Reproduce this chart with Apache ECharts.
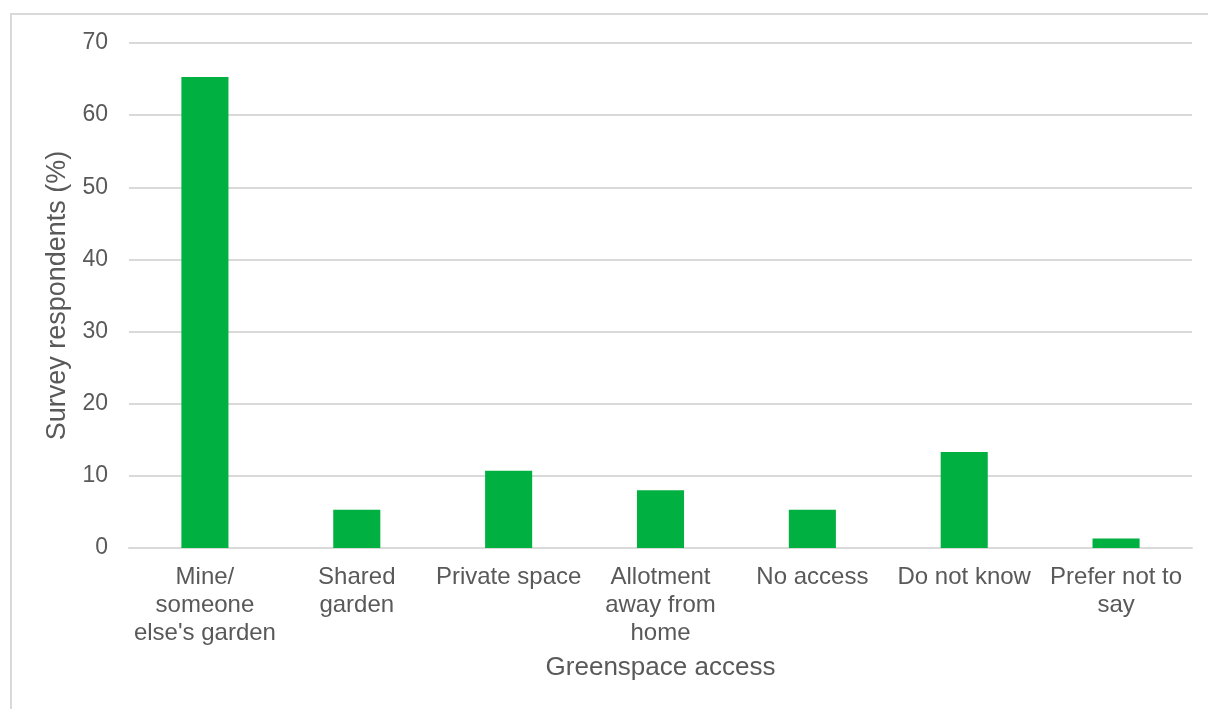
<!DOCTYPE html>
<html>
<head>
<meta charset="utf-8">
<script src="https://cdn.jsdelivr.net/npm/echarts@6/dist/echarts.min.js"></script>
<style>html,body{margin:0;padding:0;background:#fff}#c{width:1208px;height:709px}</style>
</head>
<body>
<div id="c"></div>
<script>
const categories = ["Mine/\nsomeone\nelse's garden", "Shared\ngarden", "Private space", "Allotment\naway from\nhome", "No access", "Do not know", "Prefer not to\nsay"];
const values = [65.3, 5.3, 10.7, 8.0, 5.3, 13.3, 1.3];
const yTicks = { min: 0, max: 70, interval: 10 };
const xTitle = "Greenspace access";
const yTitle = "Survey respondents (%)";

const chart = echarts.init(document.getElementById('c'), null, { renderer: 'canvas' });
const font = 'Liberation Sans, Arial, sans-serif';
chart.setOption({
  animation: false,
  backgroundColor: '#fff',
  graphic: [{
    type: 'rect',
    shape: { x: 11, y: 14, width: 1220, height: 720 },
    style: { fill: 'none', stroke: '#d9d9d9', lineWidth: 2 },
    silent: true
  }],
  grid: { left: 129, right: 16, top: 43, bottom: 161, containLabel: false },
  xAxis: {
    type: 'category',
    data: categories,
    name: xTitle,
    nameLocation: 'middle',
    nameGap: 107,
    nameTextStyle: { fontFamily: font, fontSize: 26, color: '#595959' },
    axisLine: { show: true, lineStyle: { color: '#d9d9d9', width: 2 } },
    axisTick: { show: false },
    axisLabel: { fontFamily: font, fontSize: 24, color: '#595959', lineHeight: 28, margin: 15, interval: 0 }
  },
  yAxis: {
    type: 'value',
    min: yTicks.min, max: yTicks.max, interval: yTicks.interval,
    name: yTitle,
    nameLocation: 'middle',
    nameGap: 55,
    nameRotate: 90,
    nameTextStyle: { fontFamily: font, fontSize: 27, color: '#595959' },
    axisLine: { show: false },
    axisTick: { show: false },
    axisLabel: { fontFamily: font, fontSize: 23, color: '#595959', margin: 21, padding: [4, 0, 0, 0] },
    splitLine: { lineStyle: { color: '#d9d9d9', width: 2 } }
  },
  series: [{
    type: 'bar',
    data: values,
    barWidth: '31%',
    itemStyle: { color: '#00b040' }
  }]
});
</script>
</body>
</html>
